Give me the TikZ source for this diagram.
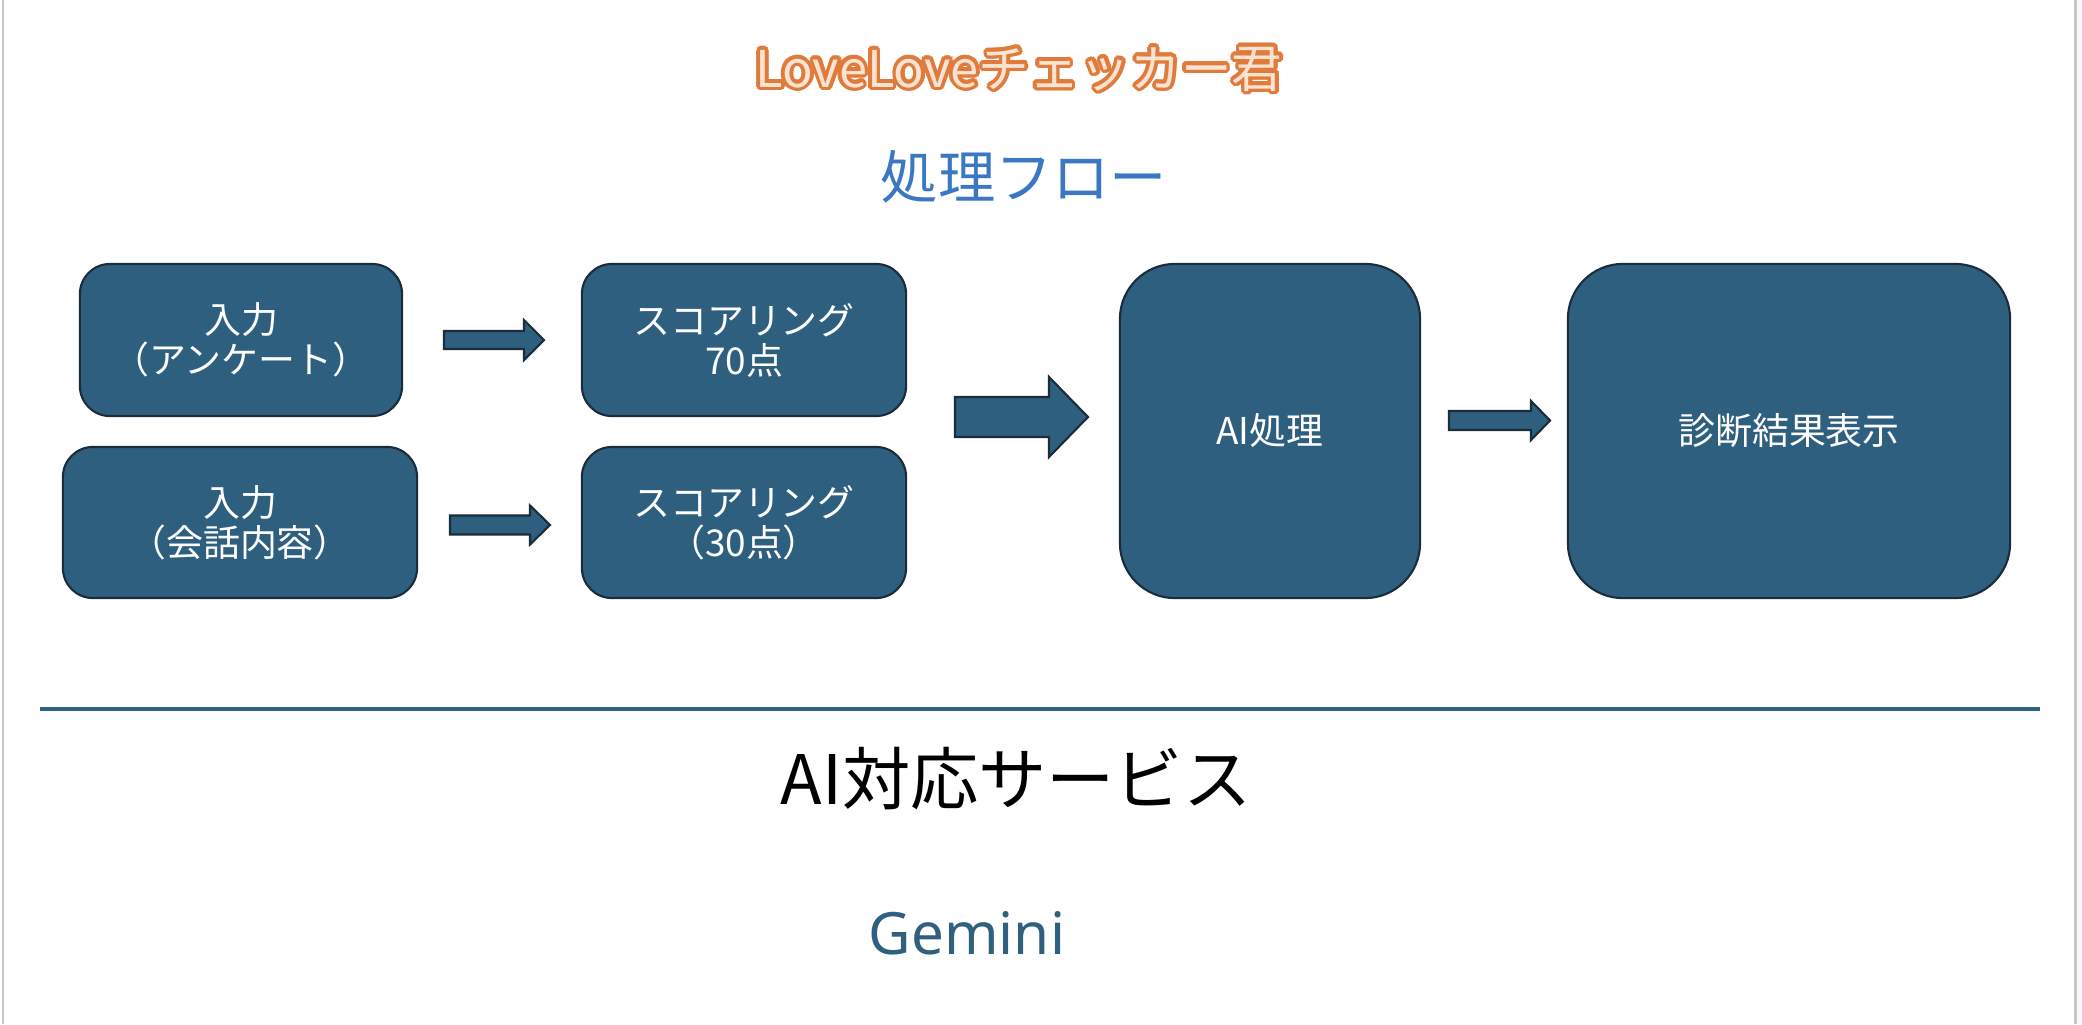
\documentclass[tikz,border=0pt]{standalone}
\usepackage{fontspec}
\setmainfont{Noto Sans CJK JP}
\newfontfamily\jpfont{Noto Sans CJK JP}
\newfontfamily\latinfont{Noto Sans}
\definecolor{boxfill}{HTML}{2F5F7F}
\definecolor{boxline}{HTML}{1B2C3A}
\definecolor{titleorange}{HTML}{E07B3C}
\definecolor{titlepale}{HTML}{FBE3D2}
\definecolor{flowblue}{HTML}{3B78C3}
\definecolor{geminiblue}{HTML}{30607F}
\definecolor{rulegray}{HTML}{C4C6C8}
\definecolor{edgefill}{HTML}{F7F8FA}
\tikzset{
  flowbox/.style={draw=boxline, fill=boxfill, line width=0.6pt, text=white,
    align=center, inner sep=0pt, font=\jpfont\fontsize{10.5pt}{11.4pt}\selectfont},
  smallbox/.style={flowbox, rounded corners=0.3cm, minimum height=1.52cm},
  bigbox/.style={flowbox, rounded corners=0.55cm, minimum height=3.34cm},
  blockarrow/.style={draw=boxline, fill=boxfill, line width=0.6pt, line join=miter},
  titletext/.style={inner sep=0pt, font=\jpfont\fontsize{14.4pt}{16pt}\selectfont}
}
\newcommand{\blkarrow}[6]{%
  \draw[blockarrow] (#1,#4-#5) -- (#2,#4-#5) -- (#2,#4-#6) -- (#3,#4)
    -- (#2,#4+#6) -- (#2,#4+#5) -- (#1,#4+#5) -- cycle;}
\begin{document}
\begin{tikzpicture}[x=0.01cm,y=-0.01cm]
\useasboundingbox (0,0) rectangle (2082,1024);
\fill[white] (0,0) rectangle (2082,1024);
\fill[edgefill] (2077,0) rectangle (2082,1024);
\draw[rulegray, line width=0.85pt] (3,0) -- (3,1024);
\draw[rulegray, line width=0.85pt] (2075,0) -- (2075,1024);

% title with outline effect
\foreach \a [count=\i] in {0,22.5,...,337.5}
  \node[titletext, text=titleorange] (tc\i) at ({1019+3.6*cos(\a)},{69+3.6*sin(\a)}) {LoveLoveチェッカー君};
\node[titletext, text=titlepale] (title) at (1019,69) {LoveLoveチェッカー君};

\node[inner sep=0pt, text=flowblue, font=\jpfont\fontsize{16.3pt}{18pt}\selectfont] (flow) at (1024,177) {処理フロー};

% boxes
\node[smallbox, minimum width=3.22cm] (in1) at (241,340) {入力\\（アンケート）};
\node[smallbox, minimum width=3.54cm, minimum height=1.51cm] (in2) at (240,522.5) {入力\\（会話内容）};
\node[smallbox, minimum width=3.24cm] (sc1) at (744,340) {スコアリング\\70点};
\node[smallbox, minimum width=3.24cm, minimum height=1.51cm] (sc2) at (744,522.5) {スコアリング\\（30点）};
\node[bigbox, minimum width=3.00cm] (ai) at (1270,431) {AI処理};
\node[bigbox, minimum width=4.42cm] (res) at (1789,431) {診断結果表示};

% block arrows
\blkarrow{444}{524}{544}{340}{9}{20}
\blkarrow{450}{530}{550}{525}{9.5}{19.5}
\blkarrow{955}{1049}{1088}{417}{20}{40}
\blkarrow{1449}{1531}{1550}{420.5}{9.5}{19.5}

% separator
\coordinate (sepL) at (40,709);
\coordinate (sepR) at (2040,709);
\draw[geminiblue, line width=0.9pt] (sepL) -- (sepR);

\node[inner sep=0pt, text=black, font=\jpfont\fontsize{19.4pt}{22pt}\selectfont] (svc) at (1016,779) {AI対応サービス};
\node[inner sep=0pt, text=geminiblue, font=\latinfont\fontsize{16.6pt}{20pt}\selectfont] (gem) at (967,933) {Gemini};
\end{tikzpicture}
\end{document}
